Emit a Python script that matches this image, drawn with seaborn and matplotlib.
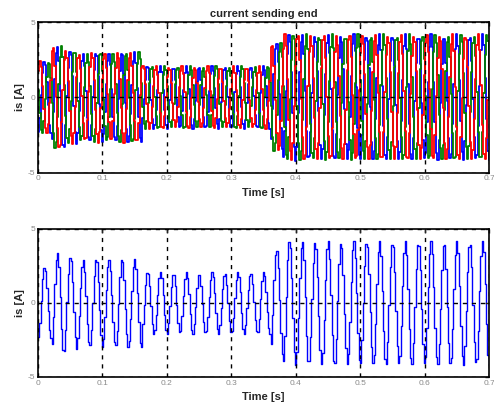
import numpy as np
import pandas as pd
import matplotlib
matplotlib.use("Agg")
import matplotlib.pyplot as plt
import seaborn as sns

# ---- data ----
freq_hz = 50.0
sample_period_s = 0.0021
t_end_s = 0.7
# peak current (A) of each 20 ms cycle
cycle_peak = [2.4, 3.4, 3.1, 2.9, 3.0, 2.9, 3.0, 3.0,
              2.1, 2.1, 2.0, 2.1, 2.0, 2.1, 2.0, 2.1, 2.0, 2.1,
              3.6, 4.2, 4.2, 4.1, 4.2, 4.1, 4.2, 4.1, 4.2,
              4.1, 4.2, 4.1, 4.2, 4.1, 4.2, 4.1, 4.2]
phase_names = ["ia", "ib", "ic"]
phase_shift_deg = [-72.0, -192.0, 48.0]
phase_colors = ["#0000ff", "#008000", "#ff0000"]
x_ticks = [0, 0.1, 0.2, 0.3, 0.4, 0.5, 0.6, 0.7]
x_tick_labels = ["0", "0.1", "0.2", "0.3", "0.4", "0.5", "0.6", "0.7"]
y_ticks = [-5, 0, 5]
y_tick_labels = ["-5", "0", "5"]
title_text = "current sending end"
x_label = "Time [s]"
y_label = "is [A]"

# ---- build the sampled (held) three-phase currents ----
t = np.arange(0, t_end_s + sample_period_s, sample_period_s)
cyc = np.clip((t * freq_hz).astype(int), 0, len(cycle_peak) - 1)
amp = np.asarray(cycle_peak)[cyc]
frames = []
for name, sh in zip(phase_names, phase_shift_deg):
    frames.append(pd.DataFrame({
        "t": t,
        "i": amp * np.sin(2 * np.pi * freq_hz * t + np.deg2rad(sh)),
        "phase": name,
    }))
df = pd.concat(frames, ignore_index=True)
df_a = df[df["phase"] == "ia"]

sns.set_style("white")
plt.rcParams["font.family"] = ["Liberation Sans", "DejaVu Sans"]

fig = plt.figure(figsize=(4.94, 4.17), dpi=100)
ax1 = fig.add_axes([0.077, 0.586, 0.913, 0.361])
ax2 = fig.add_axes([0.077, 0.096, 0.913, 0.355])

sns.lineplot(data=df, x="t", y="i", hue="phase", palette=phase_colors,
             estimator=None, sort=False, drawstyle="steps-post",
             linewidth=1.3, legend=False, ax=ax1)
sns.lineplot(data=df_a, x="t", y="i", color="#0000ff",
             estimator=None, sort=False, drawstyle="steps-post",
             linewidth=1.0, legend=False, ax=ax2)

for ax in (ax1, ax2):
    ax.set_xlim(0, 0.7)
    ax.set_ylim(-5, 5)
    ax.set_xticks(x_ticks)
    ax.set_xticklabels(x_tick_labels)
    ax.set_yticks(y_ticks)
    ax.set_yticklabels(y_tick_labels)
    ax.tick_params(direction="in", length=3, width=1, labelsize=6,
                   labelcolor="#8a8a8a", top=True, right=True, pad=2)
    ax.grid(True, color="black", linestyle=(0, (3, 3.5)), linewidth=1.0)
    ax.set_axisbelow(False)
    for sp in ax.spines.values():
        sp.set_color("black")
        sp.set_linewidth(1.2)
        sp.set_zorder(5)
    ax.set_xlabel(x_label, fontsize=8, fontweight="bold", labelpad=4)
    ax.set_ylabel(y_label, fontsize=8, fontweight="bold", labelpad=2)

ax1.set_title(title_text, fontsize=8, fontweight="bold", pad=4)

fig.savefig("out.png", dpi=100)
